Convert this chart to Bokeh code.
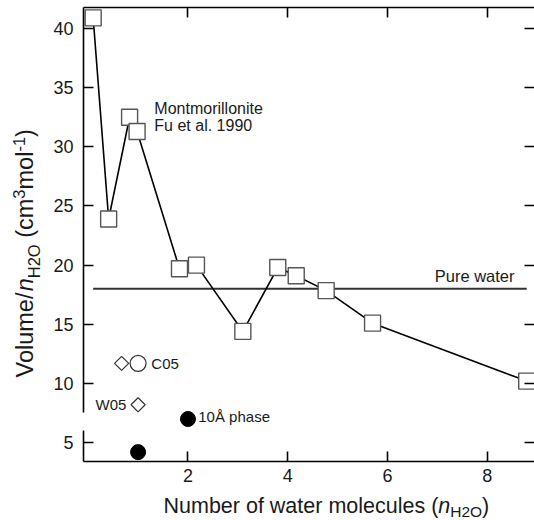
import numpy as np
from bokeh.plotting import figure
from bokeh.layouts import column, row
from bokeh.models import Range1d, FixedTicker, LinearAxis, Label, CustomLabelingPolicy
from bokeh.core.properties import value
from bokeh.embed import file_html
from bokeh.resources import INLINE

# ---------------- data ----------------
# Montmorillonite, Fu et al. 1990: number of water molecules vs volume per water
mont_n = [0.10, 0.41, 0.83, 0.98, 1.83, 2.17, 3.10, 3.80, 4.17, 4.77, 5.70, 8.79]
mont_v = [40.9, 23.9, 32.5, 31.3, 19.7, 20.0, 14.4, 19.8, 19.1, 17.85, 15.1, 10.2]
pure_water_n = [0.10, 8.79]
pure_water_v = [18.0, 18.0]
c05_diamond_n = [0.67]
c05_diamond_v = [11.7]
c05_circle_n = [1.0]
c05_circle_v = [11.7]
w05_n = [1.0]
w05_v = [8.2]
phase10_n = [2.0, 1.0]
phase10_v = [7.0, 4.2]
x_ticks = [2, 4, 6, 8]
y_ticks = [5, 10, 15, 20, 25, 30, 35, 40]

FONT = "Liberation Sans"
TXT = "#1a1a1a"

# screen mapping helpers (frame: left 82, top 7, 452 x 454 px)
PX_X = 50.0          # px per unit x
PX_Y = 11.833        # px per unit y
X0_PX = 86.7         # screen x of n = 0
Y40_PX = 28.0        # screen y of v = 40
def dx(px):
    return (px - X0_PX) / PX_X
def dy(py):
    return 40.0 - (py - Y40_PX) / PX_Y

YT_W = 50            # width of the strip holding the y title
MAIN_H = 492         # height of the main figure
F_TOP, F_BOT = 7, 461
x_range = Range1d(dx(82), dx(534))
y_range = Range1d(dy(F_BOT), dy(F_TOP))

p = figure(width=534 - YT_W, height=MAIN_H, x_range=x_range, y_range=y_range,
           title=None, output_backend="svg", toolbar_location=None,
           x_axis_location=None, y_axis_location=None,
           min_border_left=82 - YT_W, min_border_right=0, min_border_top=F_TOP,
           min_border_bottom=MAIN_H - F_BOT)
p.grid.visible = False
p.outline_line_color = None

def mk_axis(ticks, labels=True, standoff=8):
    ax = LinearAxis(ticker=FixedTicker(ticks=ticks))
    ax.major_tick_in = 10
    ax.major_tick_out = 0
    ax.minor_tick_line_color = None
    ax.axis_line_width = 1.6
    ax.axis_line_color = "black"
    ax.major_tick_line_width = 1.6
    ax.major_tick_line_color = "black"
    ax.major_label_text_font = FONT
    ax.major_label_text_font_size = "18px"
    ax.major_label_text_line_height = 1.0
    ax.major_label_text_color = TXT
    ax.major_label_standoff = standoff
    ax.axis_label_standoff = 0
    if not labels:
        ax.major_label_text_font_size = "0px"
        ax.major_label_standoff = 0
        ax.major_label_policy = CustomLabelingPolicy(code="return []")
    return ax

bottom = mk_axis(x_ticks, True, 7)
top = mk_axis(x_ticks, False)
left = mk_axis(y_ticks, True, 10)
left.axis_line_dash = "31 18 1000"
right = mk_axis(y_ticks, False)
right.axis_line_color = None
p.add_layout(bottom, "below")
p.add_layout(left, "left")
p.add_layout(top, "above")
p.add_layout(right, "right")

# pure water line
p.line(pure_water_n, pure_water_v, line_color="#333333", line_width=2)
# montmorillonite line + squares
p.line(mont_n, mont_v, line_color="black", line_width=1.6)
p.scatter(mont_n, mont_v, marker="square", size=16, fill_color="white",
          line_color="#555555", line_width=1.4)
# C05 / W05 / 10A phase
p.scatter(c05_diamond_n, c05_diamond_v, marker="square", angle=np.pi / 4, size=10,
          fill_color="white", line_color="#333333", line_width=1.2)
p.scatter(w05_n, w05_v, marker="square", angle=np.pi / 4, size=10,
          fill_color="white", line_color="#333333", line_width=1.2)
p.scatter(c05_circle_n, c05_circle_v, marker="circle", size=16,
          fill_color="white", line_color="#333333", line_width=1.2)
p.scatter(phase10_n, phase10_v, marker="circle", size=15,
          fill_color="black", line_color="black")

def lab(x, y, text, size, align="left"):
    p.add_layout(Label(x=x, y=y, text=text, text_font=FONT, text_font_size=size,
                       text_align=align, text_baseline="middle", text_color=TXT))

lab(dx(153), dy(108), "Montmorillonite", "16px")
lab(dx(153), dy(125), "Fu et al. 1990", "16px")
lab(dx(514), dy(275), "Pure water", "16.5px", align="right")
lab(dx(150), dy(363), "C05", "15px")
lab(dx(125), dy(404), "W05", "15px", align="right")
lab(dx(197), dy(416), "10Å phase", "15px")

# ---------- title strips (pixel-coordinate figures) ----------
def strip(w, h, top=0, bottom=0):
    f = figure(width=w, height=h, x_range=Range1d(0, w),
               y_range=Range1d(bottom, h - top), title=None,
               output_backend="svg", toolbar_location=None,
               x_axis_location=None, y_axis_location=None,
               min_border_left=0, min_border_right=0,
               min_border_top=top, min_border_bottom=bottom)
    f.grid.visible = False
    f.outline_line_color = None
    return f

MID = 0.358  # distance from baseline to middle of capitals, in em

def put(f, x, y, text, size, style="normal", angle=0.0):
    f.text(x=[x], y=[y], text=[text], text_font=value(FONT),
           text_font_size=value(f"{size}px"), text_font_style=value(style),
           text_align=value("left"), text_baseline=value("middle"),
           text_color=TXT, angle=angle)

# x title: Number of water molecules (n_H2O); page y -> strip y = 520 - Y
XT_H = 520 - MAIN_H
xf = strip(534, XT_H)
fs, fsub = 21.5, 15.5
base, sub_base = 513.0, 516.5
xs = 163.0
put(xf, xs, 520 - (base - MID * fs), "Number of water molecules (", fs)
xs += 12.781 * fs
put(xf, xs, 520 - (base - MID * fs), "n", fs, style="italic")
xs += 0.556 * fs
put(xf, xs, 520 - (sub_base - MID * fsub), "H2O", fsub)
xs += 2.056 * fsub
put(xf, xs, 520 - (base - MID * fs), ")", fs)

# y title: Volume/n_H2O (cm^3 mol^-1), rotated; strip y = MAIN_H - Y
yf = strip(YT_W, MAIN_H, top=F_TOP, bottom=MAIN_H - F_BOT)
A = np.pi / 2
fy, fsy = 23.5, 16.5
bx = 33.0                      # baseline of the main text (page x)
cx = bx - MID * fy             # centre line of main text
cx_sub = bx + 6.5 - MID * fsy  # centre line of subscript
cx_sup = bx - 9 - MID * fsy    # centre line of superscripts
ys = 377.0
put(yf, cx, MAIN_H - ys, "Volume/", fy, angle=A)
ys -= 3.668 * fy
put(yf, cx, MAIN_H - ys, "n", fy, style="italic", angle=A)
ys -= 0.556 * fy
put(yf, cx_sub, MAIN_H - ys, "H2O", fsy, angle=A)
ys -= 2.056 * fsy + 0.278 * fy
put(yf, cx, MAIN_H - ys, "(cm", fy, angle=A)
ys -= 1.666 * fy
put(yf, cx_sup, MAIN_H - ys, "3", fsy, angle=A)
ys -= 0.556 * fsy
put(yf, cx, MAIN_H - ys, "mol", fy, angle=A)
ys -= 1.611 * fy
put(yf, cx_sup, MAIN_H - ys, "-1", fsy, angle=A)
ys -= 0.889 * fsy
put(yf, cx, MAIN_H - ys, ")", fy, angle=A)

layout = column(row(yf, p), xf)
open("out.html", "w").write(file_html(layout, INLINE))
